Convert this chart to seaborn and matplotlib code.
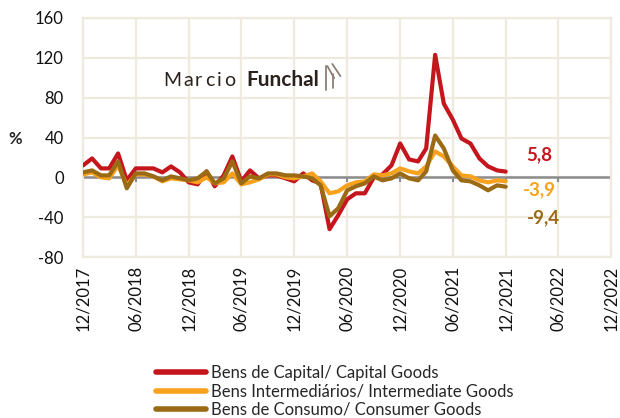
import pandas as pd
import matplotlib.pyplot as plt
import matplotlib.lines as mlines
import seaborn as sns

# monthly y/y change (%), 12/2017 .. 12/2021
months = pd.date_range('2017-12-01', '2021-12-01', freq='MS')

capital = [12, 19, 9, 9, 24, -3, 9, 9, 9, 5, 11, 5,
           -5, -7, 6, -9, 2, 21, -4, 7, -1, 2, 2, -1,
           -4, 4, -3, -6, -52, -38, -22, -16, -16, 0, 3, 12,
           34, 18, 16, 29, 123, 74, 58, 39, 34, 19, 11, 7,
           5.8]
intermediate = [3, 5, 0, -1, 12, -8, 3, 3, 1, -4, -1, -2,
                -3, -5, 0, -6, -5, 4, -7, -5, -2, 3, 3, 0,
                -1, 1, 4, -4, -16, -14, -8, -5, -4, 3, 2, 4,
                9, 6, 4, 11, 26, 21, 11, 2, 1, -3, -5, -3,
                -3.9]
consumer = [5, 7, 2, 2, 16, -11, 4, 4, 1, -3, 1, -1,
            -3, -1, 6, -6, -1, 16, -6, 1, -1, 4, 4, 2,
            2, 1, -1, -8, -39, -31, -13, -9, -6, 1, -3, -1,
            4, -1, -3, 6, 42, 29, 7, -3, -4, -8, -13, -8,
            -9.4]

series_names = ['Bens de Capital/ Capital Goods',
                'Bens Intermediários/ Intermediate Goods',
                'Bens de Consumo/ Consumer Goods']
colors = ['#C4161C', '#F8A11C', '#9A6A15']

df = pd.DataFrame({
    'date': list(months) * 3,
    'value': capital + intermediate + consumer,
    'serie': [n for n in series_names for _ in months],
})

xticks = pd.date_range('2017-12-01', '2022-12-01', freq='6MS')
yticks = [-80, -40, 0, 40, 80, 120, 160]

sns.set_style('white')
plt.rcParams['font.family'] = ['Lato', 'DejaVu Sans']

grid_c = '#EEEADD'
fig = plt.figure(figsize=(6.2, 4.18), dpi=100)
ax = fig.add_axes([0.134, 0.385, 0.852, 0.572])

sns.lineplot(data=df, x='date', y='value', hue='serie', hue_order=series_names,
             palette=dict(zip(series_names, colors)), linewidth=3.0,
             legend=False, ax=ax, zorder=3)

ax.set_xlim(xticks[0], xticks[-1])
ax.set_ylim(-80, 160)
ax.set_xticks(xticks)
ax.set_xticklabels([d.strftime('%m/%Y') for d in xticks], rotation=90,
                   fontsize=12, color='#111111')
ax.set_yticks(yticks)
ax.set_yticklabels([str(v) for v in yticks], fontsize=12, color='#111111')
ax.tick_params(axis='y', length=0, pad=14)
ax.tick_params(axis='x', length=0, pad=6)
ax.grid(True, color=grid_c, linewidth=1.6)
ax.set_axisbelow(True)
for s in ax.spines.values():
    s.set_color(grid_c)
    s.set_linewidth(1.6)
ax.set_xlabel('')
ax.set_ylabel('')

# zero axis with small ticks below it
ax.axhline(0, color='#8C8C8C', linewidth=1.8, zorder=2)
ax.vlines(xticks, -5, 0, color='#8C8C8C', linewidth=1.5, zorder=2)

# last values
last = [capital[-1], intermediate[-1], consumer[-1]]
offsets = [(15, 12), (12, -6), (15, -22)]
for v, c, off in zip(last, colors, offsets):
    ax.annotate(f'{v:.1f}'.replace('.', ','), xy=(months[-1], v),
                xytext=off, textcoords='offset points', color=c,
                fontsize=13.5, fontweight='bold', va='center', ha='left')

fig.text(0.013, 0.667, '%', fontsize=12, fontweight='bold', va='center')

# logo
for ch, px in zip('Marcio', [163, 183, 195, 205, 217, 224]):
    fig.text(px / 620, 0.808, ch, fontsize=14, color='#2B211C', va='center')
fig.text(246 / 620, 0.808, 'Funchal', fontsize=15, fontweight='bold',
         color='#2B211C', va='center')
for xs, ys in [([0.526, 0.526], [0.842, 0.785]),
               ([0.528, 0.539], [0.842, 0.813]),
               ([0.536, 0.549], [0.847, 0.818]),
               ([0.537, 0.537], [0.823, 0.789])]:
    fig.add_artist(mlines.Line2D(xs, ys, color='#8E7E74', lw=1.3))

handles = [mlines.Line2D([], [], color=c, lw=4) for c in colors]
fig.legend(handles, series_names, loc='upper left', bbox_to_anchor=(0.252, 0.127),
           frameon=False, fontsize=12, handlelength=3.0, handletextpad=0.3,
           labelspacing=0.15, borderaxespad=0, borderpad=0)

fig.savefig('out.png', dpi=100)
